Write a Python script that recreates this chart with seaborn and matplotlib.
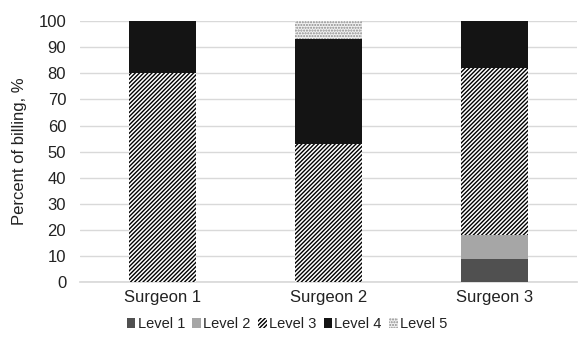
import numpy as np
import pandas as pd
import seaborn as sns
import matplotlib.pyplot as plt
from matplotlib.patches import Patch

# Data
surgeons = ["Surgeon 1", "Surgeon 2", "Surgeon 3"]
levels = ["Level 1", "Level 2", "Level 3", "Level 4", "Level 5"]
level1 = [0, 0, 9]
level2 = [0, 0, 9]
level3 = [80, 53, 64]
level4 = [20, 40, 18]
level5 = [0, 7, 0]

colors = ["#505050", "#a6a6a6", "white", "#141414", "#f2f2f2"]
hatches = [None, None, "////////", None, "......"]
hatch_colors = [None, None, "black", None, "#8a8a8a"]

sns.set_theme(style="white")
plt.rcParams["font.family"] = ["Liberation Sans", "DejaVu Sans"]
plt.rcParams["hatch.linewidth"] = 1.0

df = pd.DataFrame({"surgeon": surgeons, "Level 1": level1, "Level 2": level2,
                   "Level 3": level3, "Level 4": level4, "Level 5": level5})
cum = df[levels].cumsum(axis=1)
cum["surgeon"] = surgeons

fig = plt.figure(figsize=(5.8, 3.42), dpi=100)
ax = fig.add_axes([0.138, 0.175, 0.857, 0.763])

# draw stacked bars from the top segment down so lower segments overlay
for i in reversed(range(len(levels))):
    lvl = levels[i]
    sns.barplot(data=cum, x="surgeon", y=lvl, color=colors[i], width=0.405,
                saturation=1, ax=ax, zorder=3)
    for patch in ax.patches[-len(surgeons):]:
        patch.set_facecolor(colors[i])
        patch.set_linewidth(0)
        if hatches[i]:
            patch.set_hatch(hatches[i])
            patch.set_edgecolor(hatch_colors[i])

ax.set_ylim(0, 100)
ax.set_yticks(range(0, 101, 10))
ax.yaxis.grid(True, color="#d9d9d9", linewidth=1, zorder=0)
ax.set_axisbelow(True)
for s in ["top", "right", "left"]:
    ax.spines[s].set_visible(False)
ax.spines["bottom"].set_color("#d9d9d9")
ax.tick_params(axis="y", length=0, labelsize=12, colors="#222222", pad=10)
ax.tick_params(axis="x", length=0, labelsize=12, colors="#222222", pad=6)
ax.set_xlabel("")
ax.set_ylabel("Percent of billing, %", fontsize=12, color="#222222", labelpad=8)
ax.set_xlim(-0.5, 2.5)

handles = []
for i, lvl in enumerate(levels):
    h = Patch(facecolor=colors[i], hatch=hatches[i], linewidth=0,
              edgecolor=hatch_colors[i] if hatch_colors[i] else colors[i], label=lvl)
    handles.append(h)
fig.legend(handles=handles, loc="center", bbox_to_anchor=(0.495, 0.052), ncol=5,
           frameon=False, fontsize=10.5, handlelength=0.6, handleheight=0.6,
           handletextpad=0.15, columnspacing=0.5, labelcolor="#222222")

fig.savefig("out.png", dpi=100)
